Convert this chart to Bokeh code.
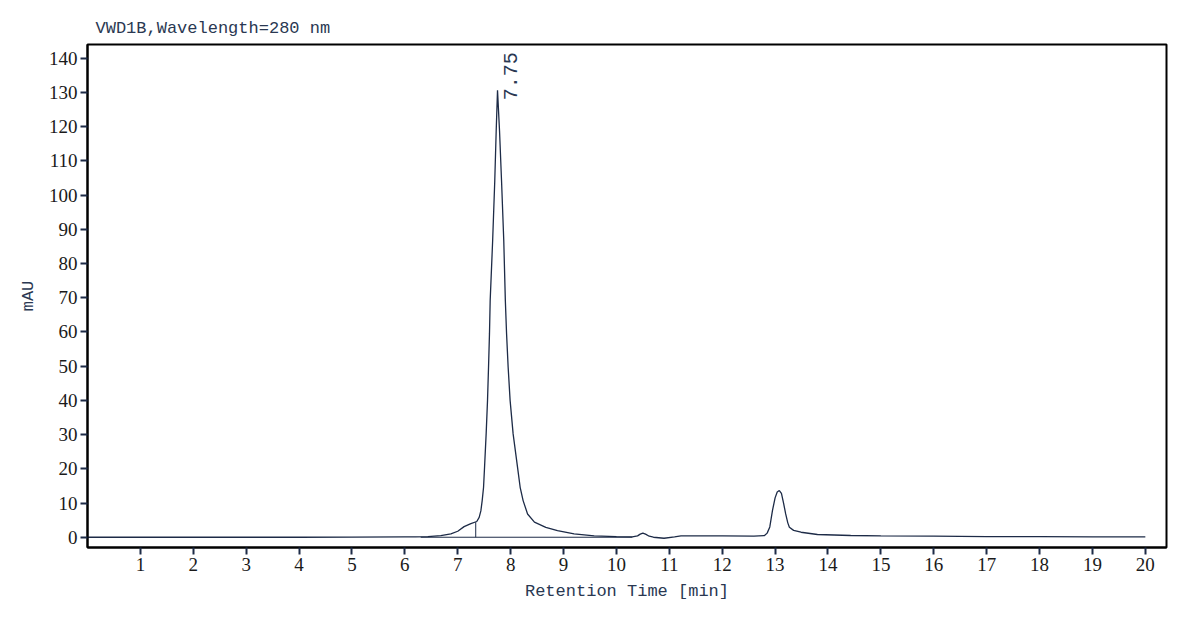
import math
from bokeh.plotting import figure
from bokeh.models import FixedTicker, Range1d, ColumnDataSource
from bokeh.core.properties import value
from bokeh.embed import file_html
from bokeh.resources import INLINE

# ---- data ----
time_min = [0.0, 1.0, 2.0, 3.0, 4.0, 5.0, 6.0, 6.2, 6.435, 6.68, 6.87, 7.0, 7.12, 7.248,
            7.36, 7.405, 7.437, 7.462, 7.488, 7.507, 7.537, 7.563, 7.582, 7.60, 7.613,
            7.66, 7.70, 7.727, 7.752, 7.79, 7.828, 7.87, 7.90, 7.923, 7.953, 7.99,
            8.047, 8.13, 8.18, 8.236, 8.32, 8.45, 8.665, 8.886, 9.2, 9.58, 10.0, 10.3,
            10.4, 10.45, 10.5, 10.55, 10.62, 10.7, 10.9, 11.1, 11.22,
            12.0, 12.6, 12.8, 12.85, 12.9, 12.95, 13.0, 13.04, 13.08, 13.12, 13.16,
            13.2, 13.24, 13.27, 13.35, 13.49, 13.8, 14.43, 15.0, 16.0, 17.0, 18.0,
            19.0, 20.0]
signal_mau = [0.0, 0.0, 0.0, 0.0, 0.0, 0.05, 0.1, 0.12, 0.2, 0.5, 1.0, 1.75, 3.1, 4.0,
              4.6, 5.8, 7.7, 10.7, 14.6, 20.5, 30.2, 40.0, 49.7, 59.5, 69.1,
              86.7, 104.2, 118.8, 130.6, 118.8, 104.2, 86.7, 69.1, 59.5, 49.7, 40.0,
              30.2, 20.5, 14.6, 10.7, 6.8, 4.4, 2.9, 1.96, 1.0, 0.4, 0.15, 0.1,
              0.4, 0.9, 1.2, 0.9, 0.3, 0.0, -0.3, 0.1, 0.4,
              0.4, 0.3, 0.5, 1.2, 3.0, 7.8, 11.5, 13.2, 13.65, 12.8, 10.0,
              6.8, 4.2, 2.9, 2.0, 1.46, 0.8, 0.5, 0.4, 0.3, 0.2, 0.15,
              0.1, 0.1]

baseline_t = [6.3, 10.3]
baseline_y = [0.0, 0.0]
drop_t = [7.34, 7.34]
drop_y = [0.0, 4.4]

peak_rt = [7.752]
peak_height = [130.6]
peak_labels = ["7.75"]

x_ticks = list(range(1, 21))
y_ticks = list(range(0, 150, 10))

title_text = "VWD1B,Wavelength=280 nm"
x_title = "Retention Time [min]"
y_title = "mAU"

LINE = "#1d2b47"
TXT = "#2a3852"

p = figure(width=1192, height=613, output_backend="svg", toolbar_location=None,
           x_range=Range1d(0.0, 20.4), y_range=Range1d(-3.0, 144.0),
           min_border_left=87, min_border_right=26, min_border_top=44,
           min_border_bottom=66, background_fill_color="white",
           border_fill_color="white")

p.title.text = title_text
p.title.align = "left"
p.title.offset = 8
p.title.standoff = 14
p.title.text_font = "Liberation Mono"
p.title.text_font_size = "17px"
p.title.text_font_style = "normal"
p.title.text_color = TXT

p.line(time_min, signal_mau, line_color=LINE, line_width=1.3)
p.line(baseline_t, baseline_y, line_color=LINE, line_width=1.0)
p.line(drop_t, drop_y, line_color=LINE, line_width=1.0)

src = ColumnDataSource(dict(x=peak_rt, y=peak_height, t=peak_labels))
p.text(x="x", y="y", text="t", source=src, angle=math.pi / 2,
       x_offset=13, y_offset=10, text_align="left", text_baseline="alphabetic",
       text_font=value("Liberation Mono"), text_font_size="20px", text_color=TXT)

p.xgrid.visible = False
p.ygrid.visible = False
p.outline_line_color = "black"
p.outline_line_width = 2
p.outline_line_alpha = 1.0

p.xaxis.ticker = FixedTicker(ticks=x_ticks)
p.yaxis.ticker = FixedTicker(ticks=y_ticks)
for ax in (p.xaxis[0], p.yaxis[0]):
    ax.axis_line_color = "black"
    ax.axis_line_width = 2
    ax.major_tick_in = 0
    ax.major_tick_out = 7
    ax.major_tick_line_color = LINE
    ax.major_tick_line_width = 2
    ax.minor_tick_line_color = None
    ax.major_label_text_font = "Liberation Serif"
    ax.major_label_text_font_size = "19px"
    ax.major_label_text_color = "#1a1a1a"
    ax.major_label_standoff = 3
    ax.axis_label_text_font = "Liberation Mono"
    ax.axis_label_text_font_size = "17px"
    ax.axis_label_text_font_style = "normal"
    ax.axis_label_text_color = TXT

p.xaxis.axis_label = x_title
p.yaxis.axis_label = y_title
p.xaxis.axis_label_standoff = 8
p.yaxis.axis_label_standoff = 8

open("out.html", "w").write(file_html(p, INLINE))
